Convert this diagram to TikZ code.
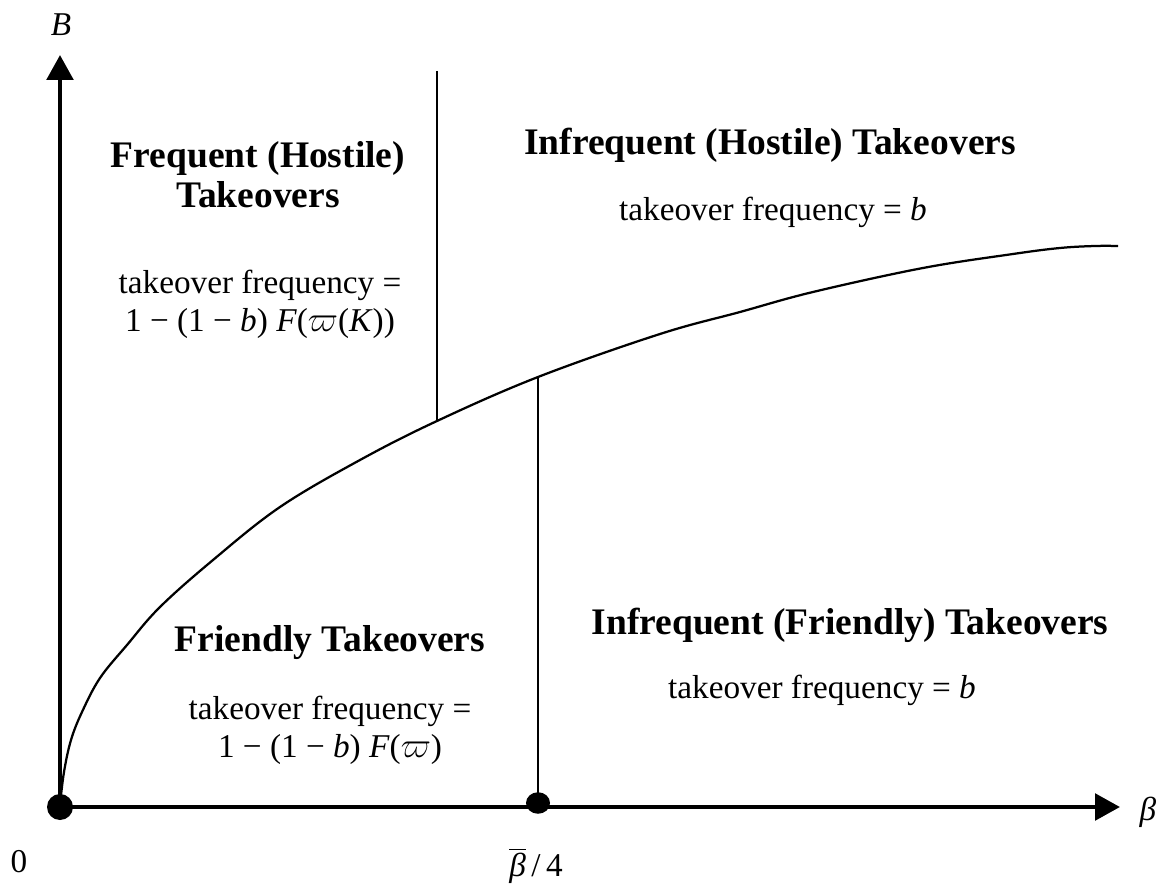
\documentclass[tikz,border=0pt]{standalone}
\usepackage{fontspec}
\setmainfont{Liberation Serif}
\usetikzlibrary{arrows.meta,shapes.geometric}
\begin{document}
\begin{tikzpicture}[x=0.4pt,y=-0.4pt,
  axis/.style={line width=1.9pt,-{Triangle[length=10pt,width=10.5pt]}},
  head/.style={font=\fontsize{15}{16}\selectfont\bfseries,align=center,inner sep=0pt},
  body/.style={font=\fontsize{13.3}{15.2}\selectfont,align=center,inner sep=0pt},
  lbl/.style={font=\fontsize{13.3}{15}\selectfont,inner sep=0pt},
  thinline/.style={line width=0.9pt},
  curveline/.style={line width=0.9pt},
  bigdot/.style={fill=black,draw=none,inner sep=0pt}]
\useasboundingbox (0,0) rectangle (1164,890);
% axes
\coordinate (O) at (60,807);
\coordinate (Ytip) at (60,55);
\coordinate (Xtip) at (1120,807);
\draw[axis] (O) -- (Ytip);
\draw[axis] (O) -- (Xtip);
% curve
\draw[curveline] plot[smooth,tension=0.6] coordinates {
 (60,805) (64,772) (71,740) (82,712) (100,678) (127,645) (160,607)
 (213,560) (280,507) (360,460) (437,421) (538,377) (660,334) (740,312)
 (813,292) (923,268) (1013,254) (1060,248) (1095,246) (1118,246)};
% vertical lines
\coordinate (V1top) at (437,71);
\coordinate (V1bot) at (437,421);
\draw[thinline] (V1top) -- (V1bot);
\coordinate (V2top) at (538,377);
\coordinate (V2bot) at (538,803);
\draw[thinline] (V2top) -- (V2bot);
% dots
\node[bigdot,circle,minimum size=10.4pt] (odot) at (O) {};
\node[bigdot,ellipse,minimum width=9.6pt,minimum height=8.6pt] (bdot) at (V2bot) {};
% axis labels
\node[lbl] (Blabel) at (61,25) {\textit{B}};
\node[lbl] (betalabel) at (1148,812) {\textit{β}};
\node[lbl] (zero) at (19,862) {0};
\node[lbl] (betabar) at (536,866) {$\overline{\mbox{\textit{β}}}$\,/\,4};
% region texts
\node[head] (fh) at (258,175) {Frequent (Hostile)\\Takeovers};
\node[body] (fhf) at (260,304) {takeover frequency =\\1 − (1 − \textit{b}) \textit{F}($\varpi$(\textit{K}))};
\node[head] (ih) at (770,145) {Infrequent (Hostile) Takeovers};
\node[body] (ihf) at (773,212) {takeover frequency = \textit{b}};
\node[head] (ifr) at (850,625) {Infrequent (Friendly) Takeovers};
\node[body] (ifrf) at (822,690) {takeover frequency = \textit{b}};
\node[head] (fr) at (330,643) {Friendly Takeovers};
\node[body] (frf) at (330,730) {takeover frequency =\\1 − (1 − \textit{b}) \textit{F}($\varpi$)};
\end{tikzpicture}
\end{document}
